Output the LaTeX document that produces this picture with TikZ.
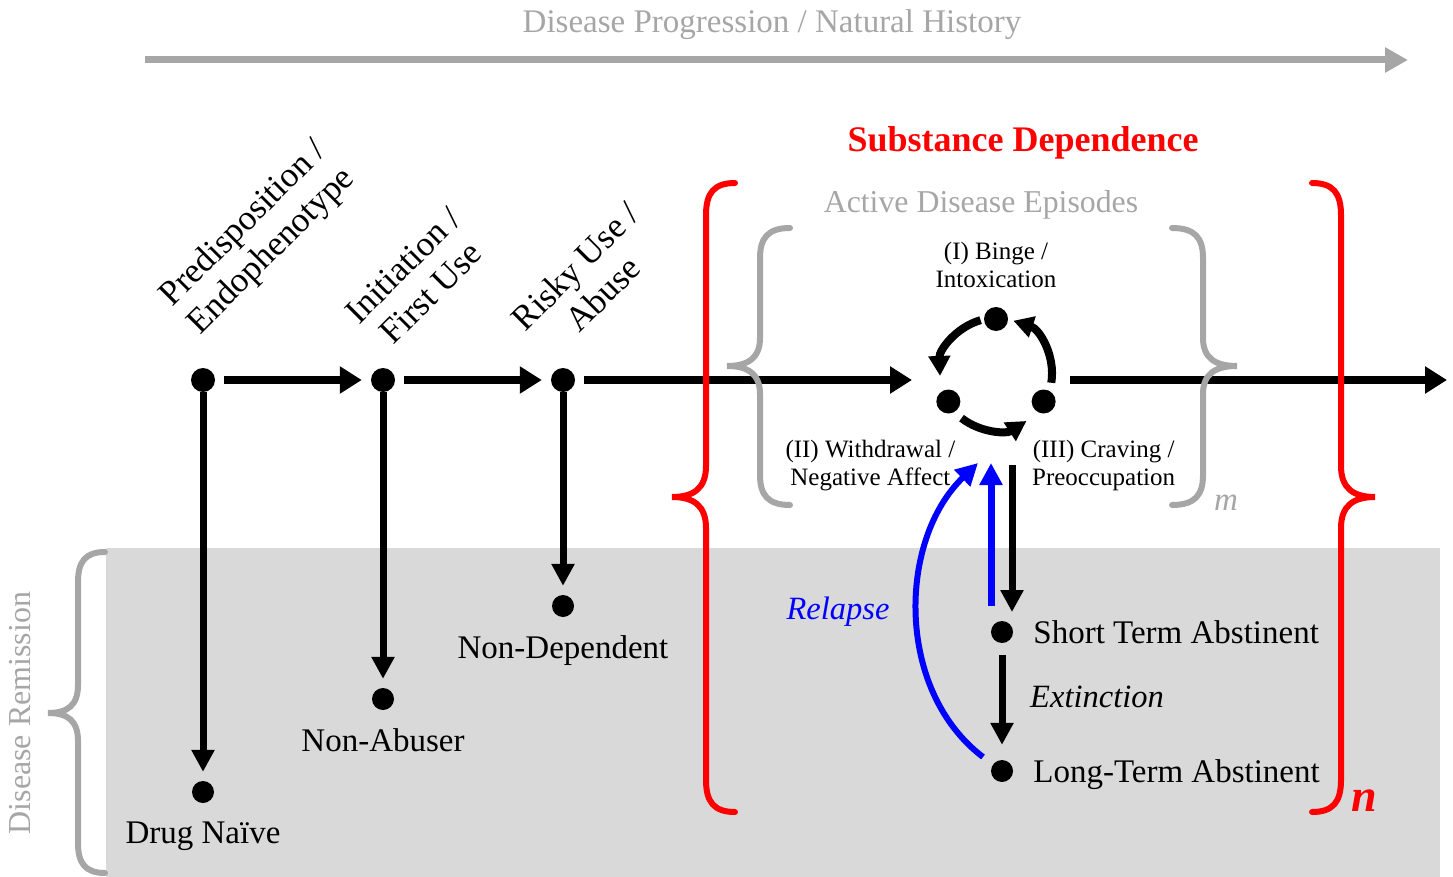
\documentclass[tikz,border=0pt]{standalone}
\usepackage{fontspec}
\setmainfont{Liberation Serif}
\usetikzlibrary{positioning,arrows.meta,calc}
\definecolor{lgray}{RGB}{166,166,166}
\definecolor{remgray}{RGB}{217,217,217}

\begin{document}
\begin{tikzpicture}[x=1pt,y=-1pt,
  dot/.style={circle,fill=black,inner sep=0pt,minimum size=23pt},
  lbl/.style={inner sep=0pt,text depth=0pt,font=\fontsize{33}{38}\selectfont},
  note/.style={lbl,font=\fontsize{32.5}{38}\selectfont\itshape},
  stage/.style={inner sep=0pt,align=center,rotate=45,font=\fontsize{35}{39}\selectfont},
  phase/.style={inner sep=0pt,align=center,text depth=0pt,font=\fontsize{25}{28}\selectfont},
  main/.style={-{Triangle[length=22pt,width=26pt]},line width=8pt},
  drop/.style={-{Triangle[length=22pt,width=22pt]},line width=7pt},
  turn/.style={-{Triangle[length=20pt,width=21pt]},line width=8pt},
  curly/.style={line width=6pt,line cap=round}]
\useasboundingbox (0,0) rectangle (1453,877);
\fill[remgray] (106,548) rectangle (1440,877);

\node[lbl,text=lgray,anchor=base,font=\fontsize{33}{38}\selectfont] (hist) at (772,33) {Disease Progression / Natural History};
\coordinate (hs) at (145,60);
\coordinate (he) at (1408,60);
\draw[-{Triangle[length=23pt,width=24pt]},line width=7pt,lgray] (hs) -- (he);

\node[lbl,text=red,anchor=base,font=\fontsize{36}{40}\selectfont\bfseries] (subdep) at (1023,152) {Substance Dependence};
\node[lbl,text=lgray,anchor=base,font=\fontsize{31.8}{38}\selectfont] (active) at (981,213) {Active Disease Episodes};

\node[stage] (predtxt) at (258,238) {Predisposition /\\Endophenotype};
\node[stage] (initxt) at (417,279) {Initiation /\\First Use};
\node[stage] (risktxt) at (589,280) {Risky Use /\\Abuse};

\node[dot,minimum size=24pt] (pre) at (203,380) {};
\node[dot,minimum size=24pt] (ini) at (383,380) {};
\node[dot,minimum size=24pt] (risk) at (563,380) {};
\coordinate (cin) at (912,380);
\coordinate (cout) at (1070,380);
\coordinate (fin) at (1447,380);
\draw[main,shorten <=9pt,shorten >=9pt] (pre) -- (ini);
\draw[main,shorten <=9pt,shorten >=9pt] (ini) -- (risk);
\draw[main,shorten <=9pt] (risk) -- (cin);
\draw[main] (cout) -- (fin);

\node[dot,minimum size=22pt] (naive) at (203,792) {};
\node[dot,minimum size=22pt] (nonab) at (383,699) {};
\node[dot,minimum size=22pt] (nondep) at (563,606) {};
\draw[drop,shorten >=9pt] (pre) -- (naive);
\draw[drop,shorten >=9pt] (ini) -- (nonab);
\draw[drop,shorten >=9pt] (risk) -- (nondep);
\node[lbl,below=18pt of naive] (naivetxt) {Drug Naïve};
\node[lbl,below=18pt of nonab] (nonabtxt) {Non-Abuser};
\node[lbl,below=18pt of nondep] (nondeptxt) {Non-Dependent};

\coordinate (cyc) at (996,374);
\node[dot,minimum size=24pt] (binge) at ($(cyc)+(-90:55)$) {};
\node[dot,minimum size=24pt] (withd) at ($(cyc)+(150:55)$) {};
\node[dot,minimum size=24pt] (crave) at ($(cyc)+(30:55)$) {};
\draw[turn] ($(cyc)+(-106:56)$) arc[start angle=-106,end angle=-182,radius=56];
\draw[turn] ($(cyc)+(-232:56)$) arc[start angle=-232,end angle=-303,radius=56];
\draw[turn] ($(cyc)+(9:56)$) arc[start angle=9,end angle=-72,radius=56];
\node[phase,above=19pt of binge] (bingetxt) {(I) Binge /\\Intoxication};
\node[phase,below=26pt of withd,xshift=-78pt] (withdtxt) {(II) Withdrawal /\\Negative Affect};
\node[phase,below=26pt of crave,xshift=60pt] (cravetxt) {(III) Craving /\\Preoccupation};

\node[dot,minimum size=22pt] (stdot) at (1002,632) {};
\node[dot,minimum size=22pt] (ltdot) at (1002,771) {};
\node[lbl,right=20pt of stdot] (sttxt) {Short Term Abstinent};
\node[lbl,right=20pt of ltdot] (lttxt) {Long-Term Abstinent};
\coordinate (quit) at (1012,465);
\coordinate (quitend) at (1012,612);
\coordinate (back) at (991,606);
\coordinate (backend) at (991,463);
\coordinate (relfrom) at (983,757);
\coordinate (relto) at (978,463);
\draw[drop] (quit) -- (quitend);
\draw[drop,blue] (back) -- (backend);
\draw[drop,shorten <=12pt,shorten >=15pt] (stdot) -- (ltdot);
\draw[drop,blue,line width=6pt] (relfrom) .. controls (895,690) and (898,540) .. (relto);
\node[note,text=blue] (relapse) at (838,608) {Relapse};
\node[note,anchor=west] (ext) at (1030,697) {Extinction};

\draw[curly,red] (735,183) .. controls (714,183) and (706,193) .. (706,215) -- (706,466)
  .. controls (706,488) and (694,497) .. (672,497) .. controls (694,497) and (706,506) .. (706,528)
  -- (706,780) .. controls (706,802) and (714,812) .. (735,812);
\draw[curly,red] (1312,183) .. controls (1333,183) and (1341,193) .. (1341,215) -- (1341,466)
  .. controls (1341,488) and (1353,497) .. (1375,497) .. controls (1353,497) and (1341,506) .. (1341,528)
  -- (1341,780) .. controls (1341,802) and (1333,812) .. (1312,812);
\draw[curly,lgray] (790,228) .. controls (768,228) and (760,238) .. (760,258) -- (760,338)
  .. controls (760,358) and (748,366) .. (727,366) .. controls (748,366) and (760,374) .. (760,394)
  -- (760,475) .. controls (760,495) and (768,505) .. (790,505);
\draw[curly,lgray] (1172,228) .. controls (1195,228) and (1203,238) .. (1203,258) -- (1203,338)
  .. controls (1203,358) and (1215,366) .. (1237,366) .. controls (1215,366) and (1203,374) .. (1203,394)
  -- (1203,475) .. controls (1203,495) and (1195,505) .. (1172,505);
\draw[curly,lgray] (105,552) .. controls (85,552) and (78,562) .. (78,582) -- (78,685)
  .. controls (78,705) and (68,713) .. (48,713) .. controls (68,713) and (78,721) .. (78,741)
  -- (78,843) .. controls (78,863) and (85,873) .. (105,873);

\node[lbl,text=lgray,font=\fontsize{33}{38}\selectfont\itshape] (mm) at (1226,503) {m};
\node[lbl,text=red,font=\fontsize{46}{50}\selectfont\bfseries\itshape] (nn) at (1364,801) {n};
\node[lbl,text=lgray,rotate=90,font=\fontsize{32}{38}\selectfont] (remis) at (20,713) {Disease Remission};
\end{tikzpicture}
\end{document}
